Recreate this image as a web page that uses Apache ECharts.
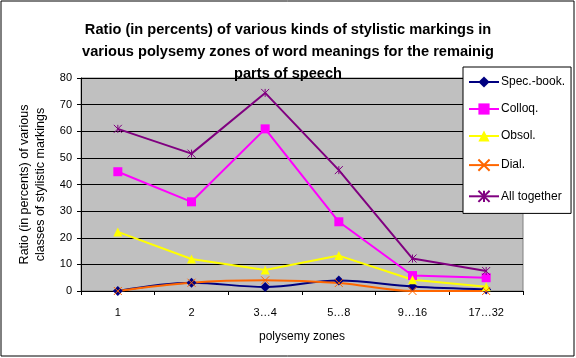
<!DOCTYPE html>
<html>
<head>
<meta charset="utf-8">
<script src="https://cdn.jsdelivr.net/npm/echarts@6/dist/echarts.min.js"></script>
<style>html,body{margin:0;padding:0;background:#fff;}#c{width:576px;height:358px;}</style>
</head>
<body>
<div id="c"></div>
<script>
var categories = ['1', '2', '3…4', '5…8', '9…16', '17…32'];
var specBook = [0, 3.1, 1.5, 3.9, 1.7, 0.6];
var colloq = [44.8, 33.5, 60.9, 26.0, 5.8, 5.0];
var obsol = [22.2, 12.0, 7.9, 13.3, 4.2, 1.6];
var dial = [0, 3.1, 4.0, 3.0, 0, 0];
var allTogether = [60.9, 51.6, 74.4, 45.4, 12.2, 7.5];
var yTicks = {min: 0, max: 80, interval: 10};

var FONT = '"Liberation Sans", Arial, sans-serif';
var chart = echarts.init(document.getElementById('c'), null, {renderer: 'canvas'});

var xPath = 'path://M0,0L10,10M10,0L0,10';
var starPath = 'path://M0,0L10,10M10,0L0,10M5,0L5,10';

function mk(name, data, color, symbol, size, smooth, hollow) {
  var s = {
    name: name, type: 'line', data: data, smooth: smooth,
    symbol: symbol, symbolSize: size, showSymbol: true,
    lineStyle: {color: color, width: 2},
    itemStyle: hollow ? {color: 'none', borderColor: color, borderWidth: 1} : {color: color},
    emphasis: {disabled: true}, animation: false
  };
  return s;
}

chart.setOption({
  animation: false,
  backgroundColor: '#ffffff',
  title: {
    text: 'Ratio (in percents) of various kinds of stylistic markings in\nvarious polysemy zones of word meanings for the remainig\nparts of speech',
    left: 'center', top: 14,
    textStyle: {fontFamily: FONT, fontWeight: 'bold', fontSize: 14.6, lineHeight: 22, color: '#000'}
  },
  legend: {
    orient: 'vertical', left: 463, top: 67,
    backgroundColor: '#fff', borderColor: '#000', borderWidth: 1,
    padding: [9, 6, 9, 5], itemWidth: 30, itemHeight: 14, itemGap: 15,
    textStyle: {fontFamily: FONT, fontSize: 12, color: '#000', padding: [0, 0, 0, -3]},
    data: ['Spec.-book.', 'Colloq.', 'Obsol.', 'Dial.', 'All together']
  },
  grid: {left: 81, right: 53, top: 78, bottom: 67, show: true, backgroundColor: '#C0C0C0', borderColor: '#808080', borderWidth: 1, z: 0},
  xAxis: {
    type: 'category', data: categories, boundaryGap: true,
    name: 'polysemy zones', nameLocation: 'middle', nameGap: 40,
    nameTextStyle: {fontFamily: FONT, fontSize: 12, color: '#000'},
    axisLine: {lineStyle: {color: '#000', width: 1}},
    axisTick: {show: true, length: 4, lineStyle: {color: '#000'}},
    axisLabel: {fontFamily: FONT, fontSize: 11, color: '#000', margin: 16}
  },
  yAxis: {
    type: 'value', min: yTicks.min, max: yTicks.max, interval: yTicks.interval,
    name: 'Ratio (in percents) of various\nclasses of stylistic markings', nameLocation: 'middle', nameGap: 30,
    nameTextStyle: {fontFamily: FONT, fontSize: 12.5, color: '#000', lineHeight: 16},
    axisLine: {show: true, lineStyle: {color: '#000', width: 1}},
    axisTick: {show: true, length: 4, lineStyle: {color: '#000'}},
    axisLabel: {fontFamily: FONT, fontSize: 11, color: '#000', margin: 9},
    splitLine: {show: true, lineStyle: {color: '#000', width: 1}}
  },
  graphic: [{
    type: 'rect', shape: {x: 1, y: 1, width: 573, height: 355},
    style: {fill: 'none', stroke: '#000', lineWidth: 1}, silent: true, z: 100
  }],
  series: [
    mk('Spec.-book.', specBook, '#000080', 'diamond', 10, 0.35, false),
    mk('Colloq.', colloq, '#FF00FF', 'rect', 9, false, false),
    mk('Obsol.', obsol, '#FFFF00', 'triangle', 9, false, false),
    mk('Dial.', dial, '#FF6600', xPath, 8, 0.35, true),
    mk('All together', allTogether, '#800080', starPath, 8, false, true)
  ]
});
</script>
</body>
</html>
